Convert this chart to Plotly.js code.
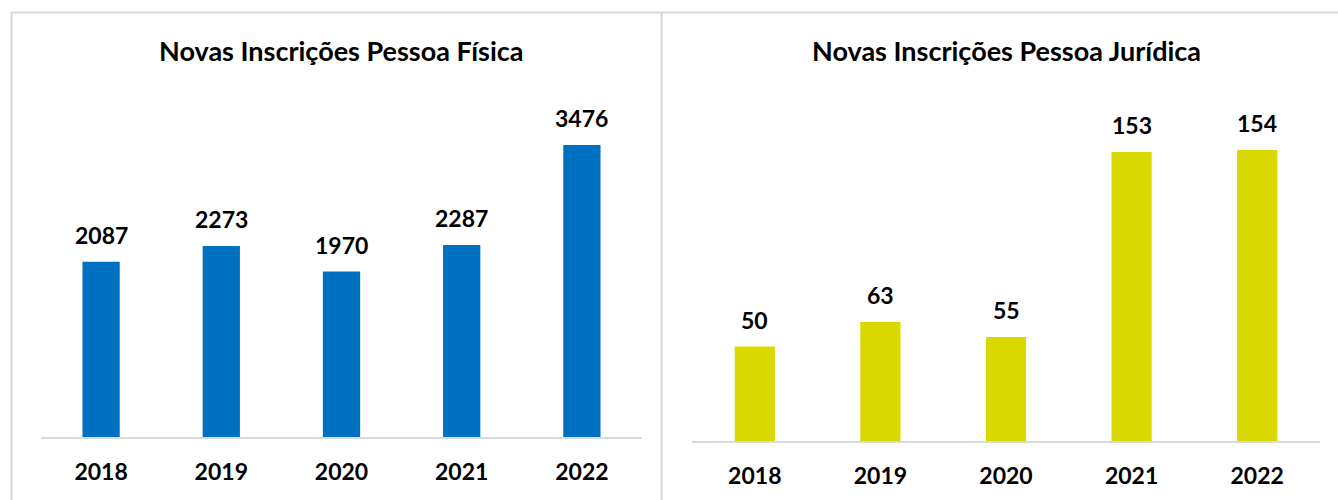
<!DOCTYPE html>
<html>
<head>
<meta charset="utf-8">
<script src="https://cdn.plot.ly/plotly-3.0.1.min.js"></script>
<style>html,body{margin:0;padding:0;background:#fff;}#chart{width:1338px;height:500px;}</style>
</head>
<body>
<div id="chart"></div>
<script>
const years = ['2018', '2019', '2020', '2021', '2022'];
const pessoaFisica = [2087, 2273, 1970, 2287, 3476];
const pessoaJuridica = [50, 63, 55, 153, 154];
const titleFisica = 'Novas Inscrições Pessoa Física';
const titleJuridica = 'Novas Inscrições Pessoa Jurídica';

const FONT = 'Lato, "Open Sans", sans-serif';
const blue = '#0070C0';
const yellow = '#D9D900';
const grid = '#D9D9D9';

const traces = [
  {type: 'bar', x: years, y: pessoaFisica, xaxis: 'x', yaxis: 'y', marker: {color: blue}, width: 0.31, hoverinfo: 'none'},
  {type: 'bar', x: years, y: pessoaJuridica, xaxis: 'x2', yaxis: 'y2', marker: {color: yellow}, width: 0.32, hoverinfo: 'none'}
];

const annotations = [];
years.forEach((yr, i) => {
  annotations.push({x: i, y: pessoaFisica[i], xref: 'x', yref: 'y', text: '<b>' + pessoaFisica[i] + '</b>',
    showarrow: false, yanchor: 'bottom', yshift: 11, font: {family: FONT, size: 23, color: '#000'}});
  annotations.push({x: i, y: pessoaJuridica[i], xref: 'x2', yref: 'y2', text: '<b>' + pessoaJuridica[i] + '</b>',
    showarrow: false, yanchor: 'bottom', yshift: 11, font: {family: FONT, size: 23, color: '#000'}});
});
annotations.push({xref: 'paper', yref: 'paper', x: 341.5 / 1338, y: 1 - 51 / 500, text: '<b>' + titleFisica + '</b>',
  showarrow: false, xanchor: 'center', yanchor: 'middle', font: {family: FONT, size: 27, color: '#000'}});
annotations.push({xref: 'paper', yref: 'paper', x: 1006 / 1338, y: 1 - 51 / 500, text: '<b>' + titleJuridica + '</b>',
  showarrow: false, xanchor: 'center', yanchor: 'middle', font: {family: FONT, size: 27, color: '#000'}});

const xcommon = {type: 'category', showgrid: false, zeroline: false, showline: true, linecolor: grid, linewidth: 2,
  ticks: '', ticklabelstandoff: 13, tickfont: {family: FONT, size: 23, color: '#000', weight: 'bold'}, fixedrange: true};
const ycommon = {visible: false, showgrid: false, zeroline: false, fixedrange: true};

const layout = {
  width: 1338, height: 500,
  margin: {l: 0, r: 0, t: 0, b: 0},
  paper_bgcolor: '#fff', plot_bgcolor: '#fff',
  showlegend: false,
  xaxis: Object.assign({}, xcommon, {domain: [41 / 1338, 642 / 1338], anchor: 'y', range: [-0.5, 4.5]}),
  yaxis: Object.assign({}, ycommon, {domain: [63 / 500, 399 / 500], range: [0, 4000], anchor: 'x'}),
  xaxis2: Object.assign({}, xcommon, {domain: [692 / 1338, 1320 / 1338], anchor: 'y2', range: [-0.5, 4.5]}),
  yaxis2: Object.assign({}, ycommon, {domain: [59 / 500, 399 / 500], range: [0, 180], anchor: 'x2'}),
  annotations: annotations,
  shapes: [
    {type: 'line', xref: 'paper', yref: 'paper', x0: 11.5 / 1338, x1: 11.5 / 1338, y0: 0, y1: 1 - 12 / 500, line: {color: grid, width: 2}},
    {type: 'line', xref: 'paper', yref: 'paper', x0: 11 / 1338, x1: 1, y0: 1 - 12.5 / 500, y1: 1 - 12.5 / 500, line: {color: grid, width: 2}},
    {type: 'line', xref: 'paper', yref: 'paper', x0: 661.5 / 1338, x1: 661.5 / 1338, y0: 0, y1: 1 - 12 / 500, line: {color: grid, width: 2}}
  ]
};

Plotly.newPlot('chart', traces, layout, {displayModeBar: false, staticPlot: true});
</script>
</body>
</html>
